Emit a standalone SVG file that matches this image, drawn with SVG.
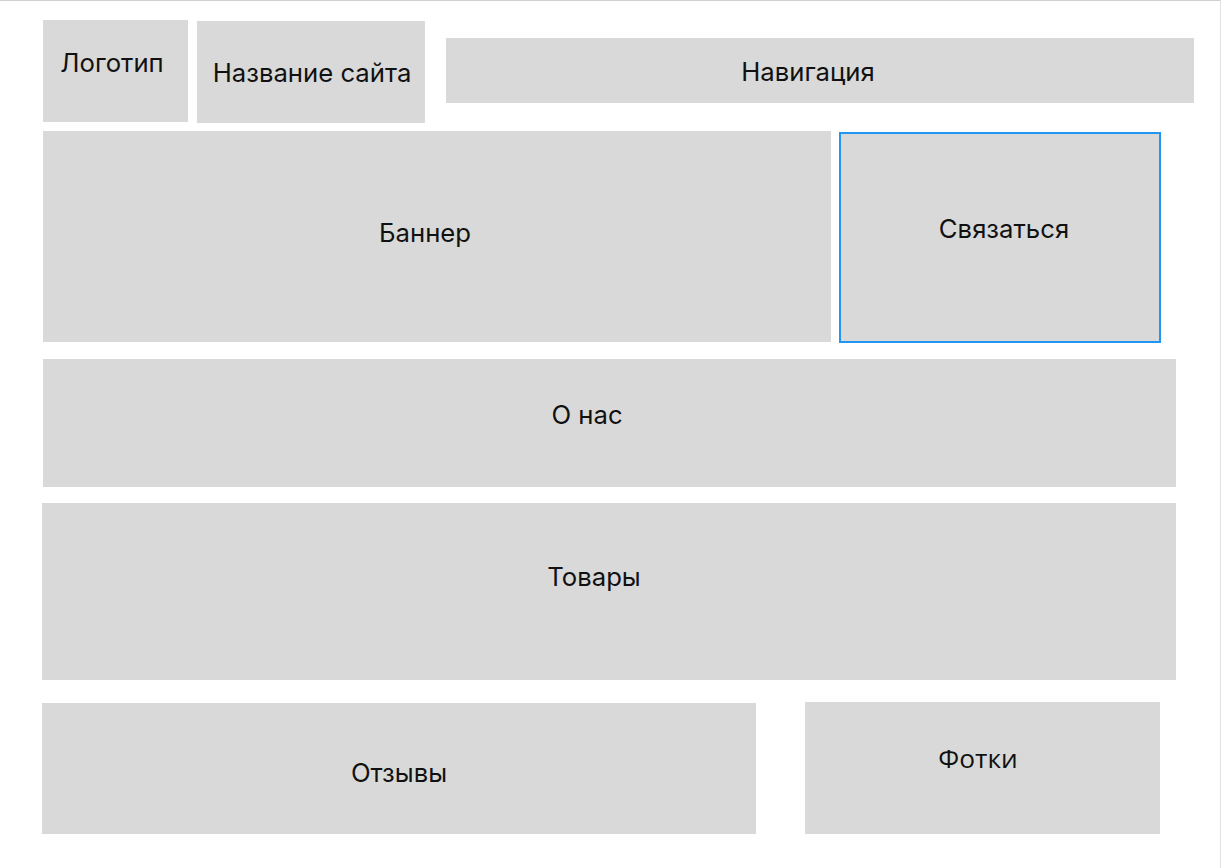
<svg xmlns="http://www.w3.org/2000/svg" width="1222" height="868" viewBox="0 0 1222 868">
<style>
.b{fill:#d9d9d9}
.t{font-family:Inter,"Liberation Sans",sans-serif;font-size:25.7px;fill:#111;text-anchor:middle}
.o{font-family:"Open Sans","Noto Sans",sans-serif;font-size:26.3px;fill:#111;text-anchor:middle}
</style>
<rect width="1222" height="868" fill="#fff"/>
<g id="frame"><line x1="0" y1="0.5" x2="1221" y2="0.5" stroke="#cfcfcf"/><line x1="1220.5" y1="0" x2="1220.5" y2="868" stroke="#e2e2e2"/></g>
<g id="logo"><rect class="b" x="43" y="20" width="145" height="102"/><text class="t" x="112" y="72">Логотип</text></g>
<g id="sitename"><rect class="b" x="197" y="21" width="228" height="102"/><text class="t" x="312" y="82">Название сайта</text></g>
<g id="nav"><rect class="b" x="446" y="38" width="748" height="65"/><text class="t" x="808" y="81">Навигация</text></g>
<g id="banner"><rect class="b" x="43" y="131" width="788" height="211"/><text class="t" x="425" y="242">Баннер</text></g>
<g id="contact"><rect class="b" x="840" y="133" width="320" height="209" stroke="#2196f3" stroke-width="2"/><text class="t" x="1004" y="238">Связаться</text></g>
<g id="about"><rect class="b" x="43" y="359" width="1133" height="128"/><text class="t" x="587" y="424">О нас</text></g>
<g id="goods"><rect class="b" x="42" y="503" width="1134" height="177"/><text class="t" x="594" y="586">Товары</text></g>
<g id="reviews"><rect class="b" x="42" y="703" width="714" height="131"/><text class="t" x="399" y="782">Отзывы</text></g>
<g id="photos"><rect class="b" x="805" y="702" width="355" height="132"/><text class="o" x="978" y="768">Фотки</text></g>
<g id="connectors"/>
</svg>
